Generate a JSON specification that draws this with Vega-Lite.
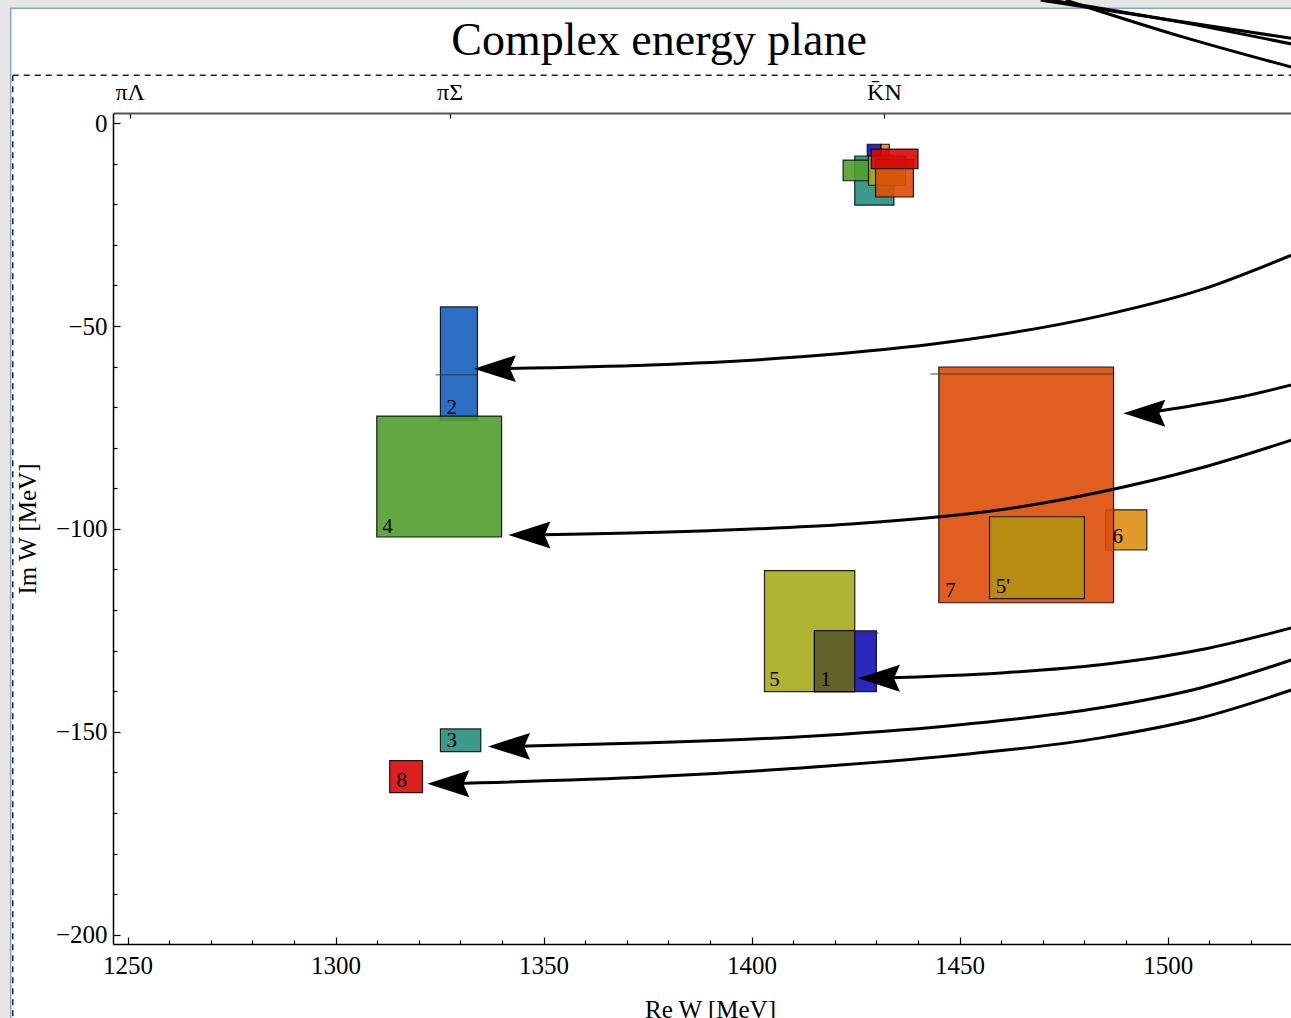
{
  "$schema": "https://vega.github.io/schema/vega-lite/v6.json",
  "width": 1194,
  "height": 831,
  "autosize": {"type": "none"},
  "padding": {"left": 113, "top": 113, "right": 0, "bottom": 80},
  "background": "#e6e6e6",
  "title": {"text": "Complex energy plane", "font": "Liberation Serif", "fontSize": 46, "fontWeight": "normal", "color": "black", "anchor": "middle", "dx": -51, "offset": -107, "baseline": "alphabetic"},
  "config": {
    "view": {"stroke": "#444", "strokeWidth": 1.5, "fill": "white"},
    "font": "Liberation Serif",
    "axis": {"labelFont": "Liberation Serif", "titleFont": "Liberation Serif", "labelColor": "black", "titleColor": "black", "domainColor": "black", "tickColor": "black", "grid": false, "titleFontWeight": "normal", "labelFlush": false, "labelOverlap": false}
  },
  "datasets": {
    "panel": [{"x1": 1221.9, "x2": 1700, "y1": 28.3, "y2": -400}],
    "frame": [
      {"x1": 1222.4, "x2": 1700, "y1": 11.8, "y2": 11.8},
      {"x1": 1222.4, "x2": 1222.4, "y1": 11.8, "y2": -400}
    ],
    "boxes": [
      {"id": "6", "x1": 1485.1, "x2": 1495.0, "y1": -95.3, "y2": -105.2, "c": "6"},
      {"id": "7", "x1": 1445.0, "x2": 1487.0, "y1": -60.1, "y2": -118.2, "c": "7"},
      {"id": "5'", "x1": 1457.2, "x2": 1480.0, "y1": -97.0, "y2": -117.2, "c": "5'"},
      {"id": "5", "x1": 1403.1, "x2": 1424.8, "y1": -110.3, "y2": -140.1, "c": "5"},
      {"id": "1", "x1": 1415.1, "x2": 1430.0, "y1": -125.1, "y2": -140.1, "c": "1"},
      {"id": "1&5", "x1": 1415.1, "x2": 1424.8, "y1": -125.1, "y2": -140.1, "c": "ov"},
      {"id": "2", "x1": 1325.2, "x2": 1334.1, "y1": -45.3, "y2": -73.2, "c": "2"},
      {"id": "4", "x1": 1309.9, "x2": 1339.9, "y1": -72.2, "y2": -102.0, "c": "4"},
      {"id": "3", "x1": 1325.2, "x2": 1334.9, "y1": -149.3, "y2": -154.9, "c": "3"},
      {"id": "8", "x1": 1313.0, "x2": 1320.9, "y1": -157.1, "y2": -165.0, "c": "8"},
      {"id": "1a", "x1": 1427.8, "x2": 1431.1, "y1": -5.2, "y2": -9.5, "c": "1"},
      {"id": "6a", "x1": 1431.1, "x2": 1433.1, "y1": -5.2, "y2": -9.5, "c": "6"},
      {"id": "3a", "x1": 1424.8, "x2": 1434.2, "y1": -8.1, "y2": -20.2, "c": "3"},
      {"id": "4a", "x1": 1422.0, "x2": 1428.6, "y1": -9.1, "y2": -14.2, "c": "4"},
      {"id": "5a", "x1": 1428.1, "x2": 1437.0, "y1": -8.1, "y2": -15.3, "c": "5"},
      {"id": "7a", "x1": 1429.8, "x2": 1438.9, "y1": -8.9, "y2": -18.2, "c": "7"},
      {"id": "8a", "x1": 1428.8, "x2": 1440.0, "y1": -6.4, "y2": -11.2, "c": "8"}
    ],
    "marks": [
      {"x1": 1324.0, "x2": 1334.1, "y": -62.0},
      {"x1": 1443.0, "x2": 1487.0, "y": -61.8},
      {"x1": 1425.2, "x2": 1430.5, "y": -125.7}
    ],
    "labels": [
      {"t": "2", "x": 1327.9, "y": -70.2},
      {"t": "4", "x": 1312.5, "y": -99.5},
      {"t": "7", "x": 1447.8, "y": -115.3},
      {"t": "5'", "x": 1460.4, "y": -114.3},
      {"t": "6", "x": 1488.0, "y": -102.0},
      {"t": "5", "x": 1405.5, "y": -137.2},
      {"t": "1", "x": 1417.8, "y": -137.2},
      {"t": "3", "x": 1327.9, "y": -152.2},
      {"t": "8", "x": 1315.9, "y": -162.1}
    ],
    "arrows": [
      {"a": "A", "x": 1529.8, "y": -32.5}, {"a": "A", "x": 1507.9, "y": -41.1}, {"a": "A", "x": 1483.9, "y": -47.5}, {"a": "A", "x": 1447.8, "y": -53.9}, {"a": "A", "x": 1411.8, "y": -57.6}, {"a": "A", "x": 1375.7, "y": -59.6}, {"a": "A", "x": 1338.3, "y": -60.5},
      {"a": "B", "x": 1529.8, "y": -64.5}, {"a": "B", "x": 1517.5, "y": -67.5}, {"a": "B", "x": 1505.5, "y": -69.7}, {"a": "B", "x": 1494.4, "y": -71.5},
      {"a": "C", "x": 1529.8, "y": -78.1}, {"a": "C", "x": 1507.9, "y": -85.0}, {"a": "C", "x": 1483.9, "y": -90.9}, {"a": "C", "x": 1459.9, "y": -95.3}, {"a": "C", "x": 1423.8, "y": -98.8}, {"a": "C", "x": 1387.7, "y": -100.5}, {"a": "C", "x": 1346.6, "y": -101.5},
      {"a": "D", "x": 1529.8, "y": -124.4}, {"a": "D", "x": 1507.9, "y": -129.8}, {"a": "D", "x": 1483.9, "y": -133.5}, {"a": "D", "x": 1459.9, "y": -135.5}, {"a": "D", "x": 1430.6, "y": -136.8},
      {"a": "E", "x": 1529.8, "y": -132.3}, {"a": "E", "x": 1507.9, "y": -139.2}, {"a": "E", "x": 1483.9, "y": -144.1}, {"a": "E", "x": 1447.8, "y": -148.5}, {"a": "E", "x": 1411.8, "y": -151.2}, {"a": "E", "x": 1375.7, "y": -152.7}, {"a": "E", "x": 1341.7, "y": -153.6},
      {"a": "F", "x": 1529.8, "y": -139.7}, {"a": "F", "x": 1507.9, "y": -146.6}, {"a": "F", "x": 1483.9, "y": -151.5}, {"a": "F", "x": 1447.8, "y": -155.9}, {"a": "F", "x": 1411.8, "y": -158.9}, {"a": "F", "x": 1375.7, "y": -161.1}, {"a": "F", "x": 1327.1, "y": -162.8},
      {"a": "T1", "x": 1469.5, "y": 30.3}, {"a": "T1", "x": 1500.7, "y": 25.4}, {"a": "T1", "x": 1529.8, "y": 20.9},
      {"a": "T2", "x": 1472.0, "y": 30.3}, {"a": "T2", "x": 1503.1, "y": 24.9}, {"a": "T2", "x": 1529.8, "y": 19.5},
      {"a": "T3", "x": 1475.5, "y": 30.3}, {"a": "T3", "x": 1503.8, "y": 21.2}, {"a": "T3", "x": 1529.8, "y": 13.8}
    ],
    "heads": [
      {"x": 1338.3, "y": -60.5},
      {"x": 1494.4, "y": -71.5},
      {"x": 1346.6, "y": -101.5},
      {"x": 1430.6, "y": -136.8},
      {"x": 1341.7, "y": -153.6},
      {"x": 1327.1, "y": -162.8}
    ],
    "thresholds": [
      {"ch": "πΛ", "x": 1250.5},
      {"ch": "πΣ", "x": 1327.4},
      {"ch": "K̄N", "x": 1431.8}
    ]
  },
  "resolve": {"axis": {"x": "independent", "y": "independent"}},
  "layer": [
    {
      "data": {"name": "panel"},
      "mark": {"type": "rect", "fill": "white", "stroke": "#86a4cf", "strokeWidth": 1.5},
      "encoding": {
        "x": {"field": "x1", "type": "quantitative", "scale": {"domain": [1246.5, 1533.5], "nice": false, "zero": false}, "axis": null},
        "x2": {"field": "x2"},
        "y": {"field": "y1", "type": "quantitative", "scale": {"domain": [-202.3, 2.5], "nice": false, "zero": false}, "axis": null},
        "y2": {"field": "y2"}
      }
    },
    {
      "data": {"name": "frame"},
      "mark": {"type": "rule", "color": "#222", "strokeWidth": 1.5, "strokeDash": [6, 5]},
      "encoding": {
        "x": {"field": "x1", "type": "quantitative", "scale": {"domain": [1246.5, 1533.5], "nice": false, "zero": false}, "axis": null},
        "x2": {"field": "x2"},
        "y": {"field": "y1", "type": "quantitative", "scale": {"domain": [-202.3, 2.5], "nice": false, "zero": false}, "axis": null},
        "y2": {"field": "y2"}
      }
    },
    {
      "data": {"name": "boxes"},
      "mark": {"type": "rect", "fillOpacity": 0.9, "stroke": "black", "strokeWidth": 1.2, "strokeOpacity": 0.85},
      "encoding": {
        "x": {"field": "x1", "type": "quantitative", "scale": {"domain": [1246.5, 1533.5], "nice": false, "zero": false},
          "axis": {"orient": "bottom", "zindex": 2, "values": [1250, 1260, 1270, 1280, 1290, 1300, 1310, 1320, 1330, 1340, 1350, 1360, 1370, 1380, 1390, 1400, 1410, 1420, 1430, 1440, 1450, 1460, 1470, 1480, 1490, 1500, 1510, 1520, 1530],
            "labelExpr": "datum.value % 50 === 0 ? format(datum.value, 'd') : ''",
            "tickSize": {"condition": {"test": "datum.value % 50 === 0", "value": -7}, "value": -4},
            "domainWidth": 1.5, "tickWidth": 1.2, "labelFontSize": 25, "labelPadding": 16,
            "title": "Re W [MeV]", "titleFontSize": 25, "titlePadding": 16}},
        "x2": {"field": "x2"},
        "y": {"field": "y1", "type": "quantitative", "scale": {"domain": [-202.3, 2.5], "nice": false, "zero": false},
          "axis": {"orient": "left", "zindex": 2, "values": [-200, -190, -180, -170, -160, -150, -140, -130, -120, -110, -100, -90, -80, -70, -60, -50, -40, -30, -20, -10, 0],
            "labelExpr": "datum.value % 50 === 0 ? format(datum.value, 'd') : ''",
            "tickSize": {"condition": {"test": "datum.value % 50 === 0", "value": -7}, "value": -4},
            "domainWidth": 1.5, "tickWidth": 1.2, "labelFontSize": 25, "labelPadding": 13,
            "title": "Im W [MeV]", "titleFontSize": 25, "titlePadding": 15}},
        "y2": {"field": "y2"},
        "fill": {"field": "c", "type": "nominal", "legend": null,
          "scale": {"domain": ["1", "2", "3", "4", "5", "5'", "6", "7", "8", "ov"],
            "range": ["#1212b7", "#175fc0", "#278f7f", "#509e2f", "#a7ac19", "#b49110", "#dd9013", "#dd4e08", "#d80707", "#6a691c"]}}
      }
    },
    {
      "data": {"name": "marks"},
      "mark": {"type": "rule", "color": "#333", "strokeWidth": 1.5, "opacity": 0.6},
      "encoding": {
        "x": {"field": "x1", "type": "quantitative", "scale": {"domain": [1246.5, 1533.5], "nice": false, "zero": false}, "axis": null},
        "x2": {"field": "x2"},
        "y": {"field": "y", "type": "quantitative", "scale": {"domain": [-202.3, 2.5], "nice": false, "zero": false}, "axis": null}
      }
    },
    {
      "data": {"name": "labels"},
      "mark": {"type": "text", "font": "Liberation Serif", "fontSize": 21, "color": "black", "align": "center", "baseline": "middle"},
      "encoding": {
        "x": {"field": "x", "type": "quantitative", "scale": {"domain": [1246.5, 1533.5], "nice": false, "zero": false}, "axis": null},
        "y": {"field": "y", "type": "quantitative", "scale": {"domain": [-202.3, 2.5], "nice": false, "zero": false}, "axis": null},
        "text": {"field": "t"}
      }
    },
    {
      "data": {"name": "arrows"},
      "mark": {"type": "line", "color": "black", "strokeWidth": 3, "interpolate": "monotone"},
      "encoding": {
        "x": {"field": "x", "type": "quantitative", "scale": {"domain": [1246.5, 1533.5], "nice": false, "zero": false}, "axis": null},
        "y": {"field": "y", "type": "quantitative", "scale": {"domain": [-202.3, 2.5], "nice": false, "zero": false}, "axis": null},
        "detail": {"field": "a"}
      }
    },
    {
      "data": {"name": "heads"},
      "mark": {"type": "point", "shape": "M-1,0L1,-0.64L0.72,0L1,0.64Z", "size": 1764, "filled": true, "color": "black", "opacity": 1, "strokeWidth": 0},
      "encoding": {
        "x": {"field": "x", "type": "quantitative", "scale": {"domain": [1246.5, 1533.5], "nice": false, "zero": false}, "axis": null},
        "y": {"field": "y", "type": "quantitative", "scale": {"domain": [-202.3, 2.5], "nice": false, "zero": false}, "axis": null}
      }
    },
    {
      "data": {"name": "thresholds"},
      "mark": {"type": "point", "opacity": 0},
      "encoding": {
        "x": {"field": "x", "type": "quantitative", "scale": {"domain": [1246.5, 1533.5], "nice": false, "zero": false},
          "axis": {"orient": "top", "zindex": 2, "values": [1250.5, 1327.4, 1431.8],
            "labelExpr": "datum.value < 1300 ? 'πΛ' : (datum.value < 1400 ? 'πΣ' : 'K̄N')",
            "tickSize": -5, "tickWidth": 1.2, "domainColor": "#555", "domainWidth": 2,
            "labelFontSize": 24, "labelPadding": 14, "title": null}}
      }
    }
  ]
}
